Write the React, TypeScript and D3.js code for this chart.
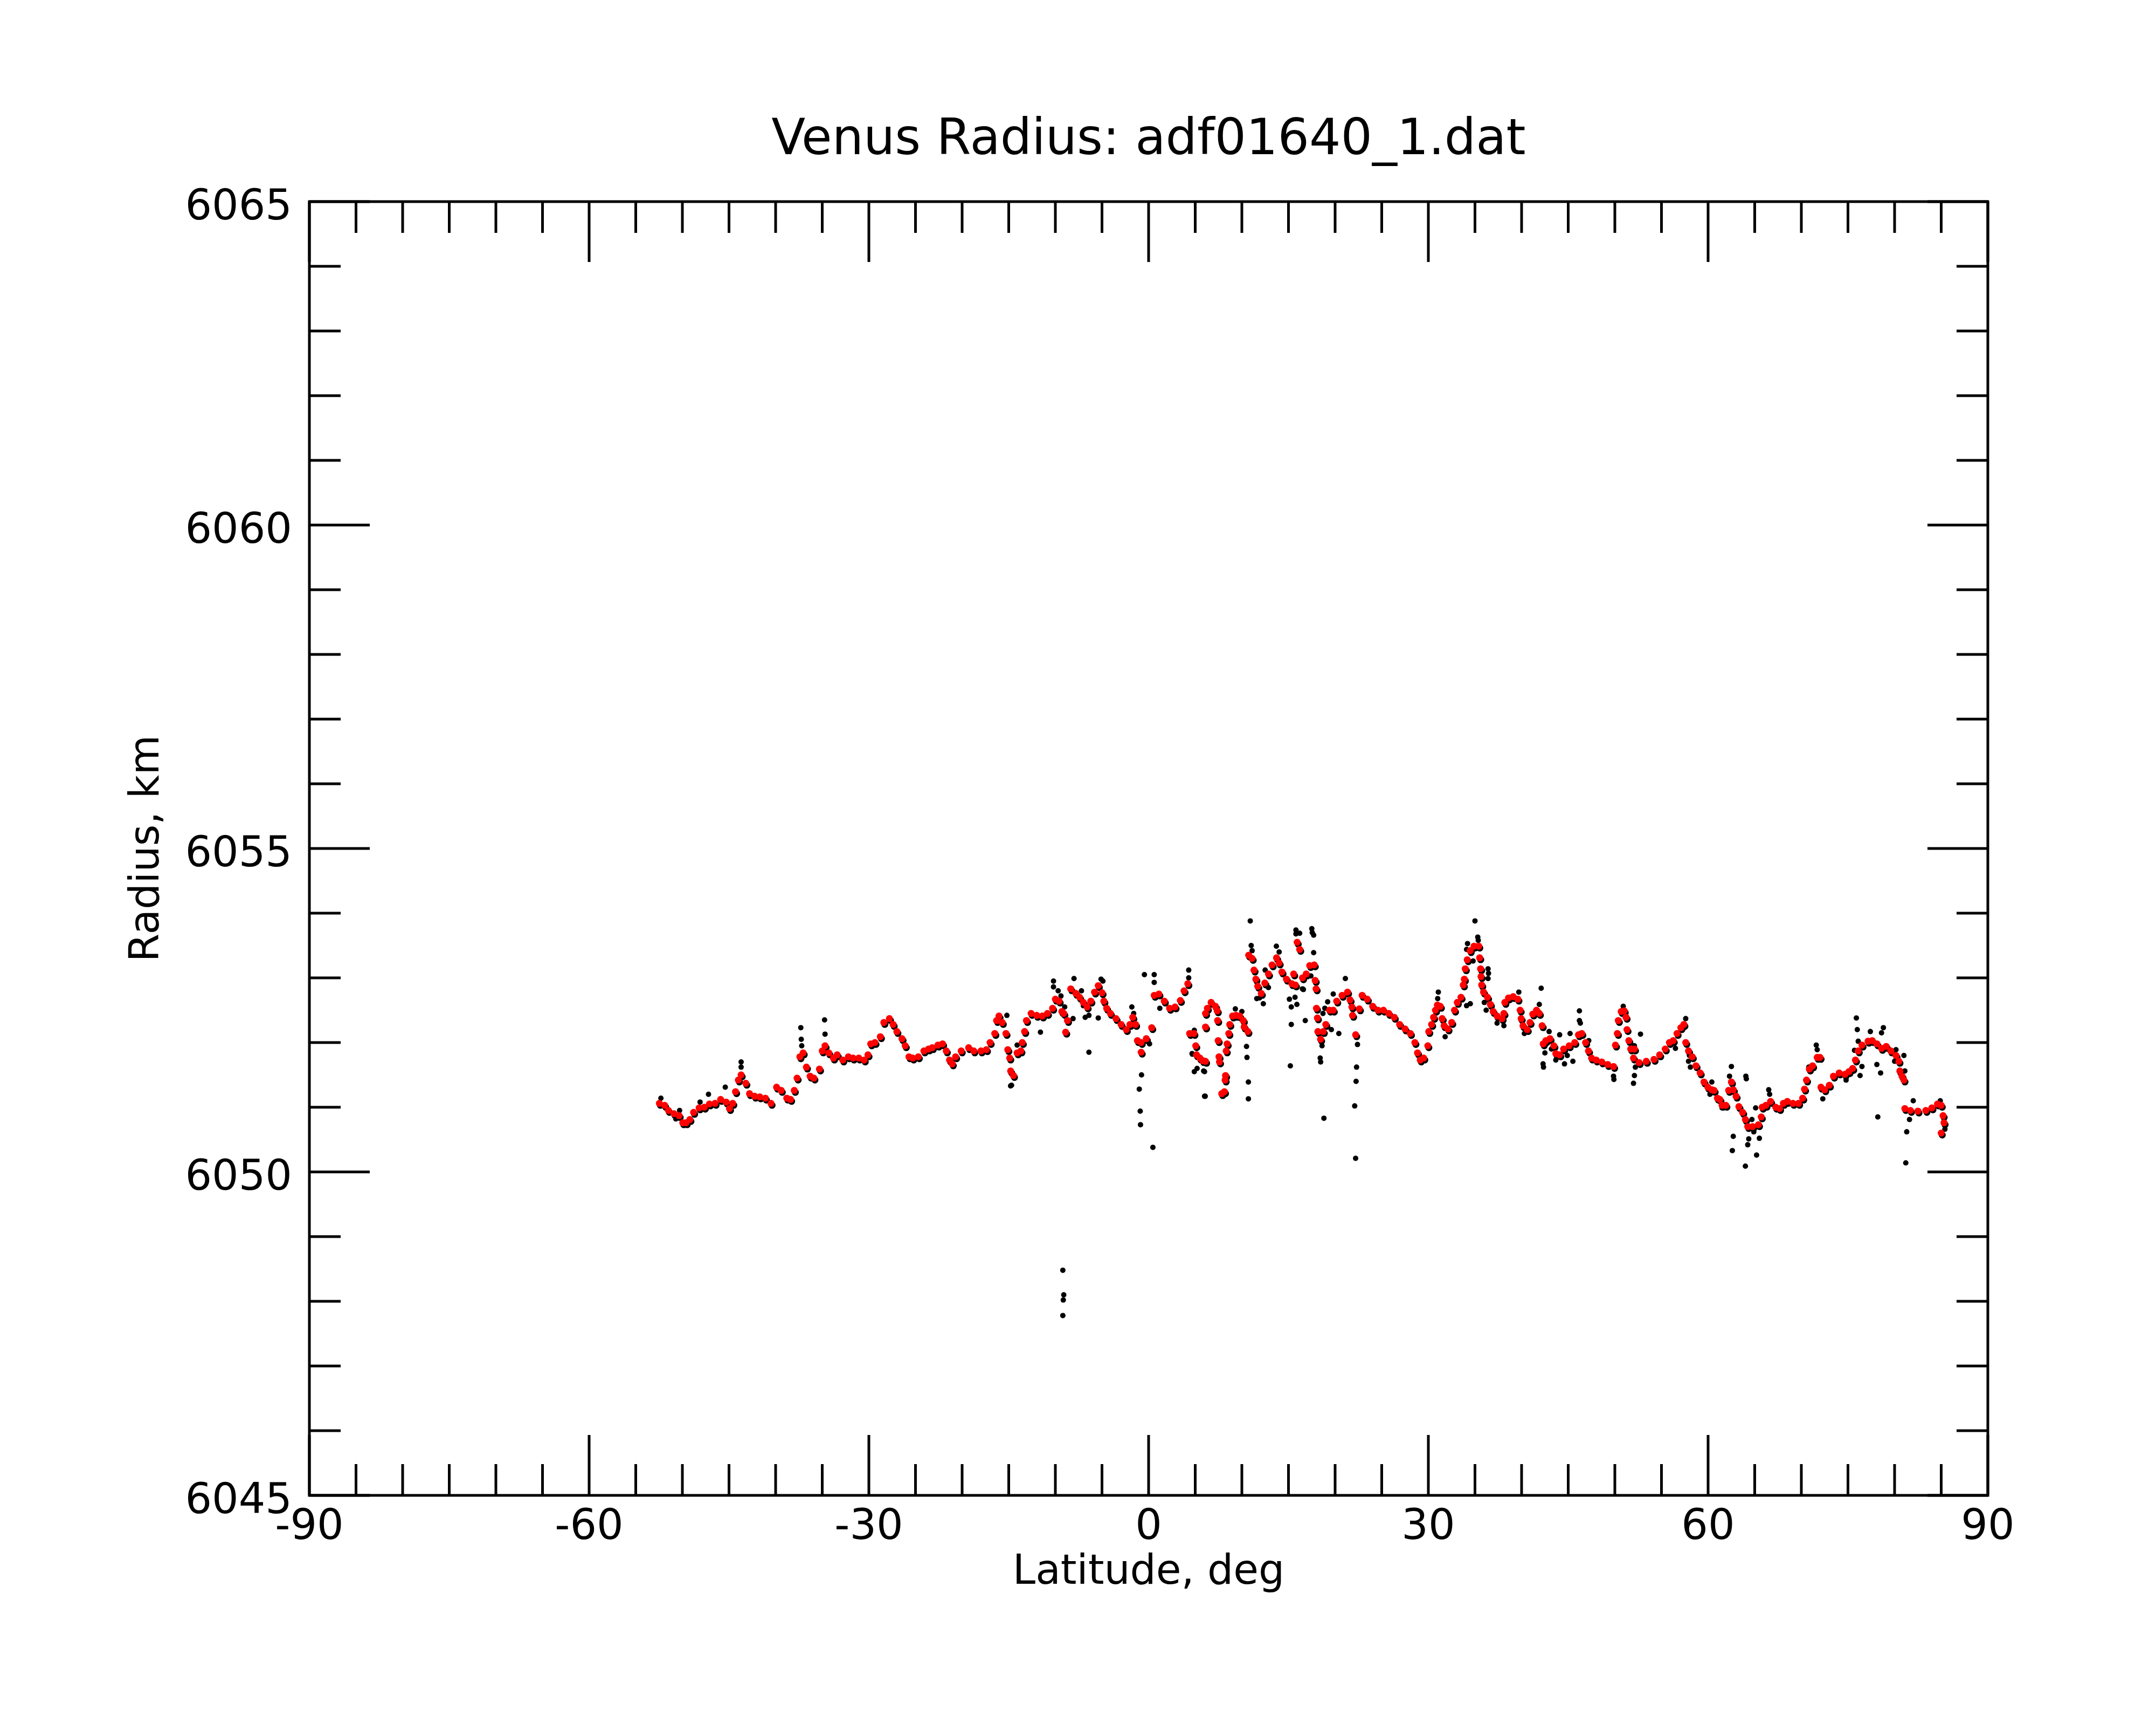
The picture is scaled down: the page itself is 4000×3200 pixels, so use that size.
import React from "react";
import * as d3 from "d3";

const chartTitle = "Venus Radius: adf01640_1.dat";
const xAxisTitle = "Latitude, deg";
const yAxisTitle = "Radius, km";

const latDomain: [number, number] = [-90, 90];
const radiusDomain: [number, number] = [6045, 6065];
const latMajorTicks = [-90, -60, -30, 0, 30, 60, 90];
const latMinorTicks = d3.range(-90, 91, 5);
const radiusMajorTicks = [6045, 6050, 6055, 6060, 6065];
const radiusMinorTicks = d3.range(6045, 6066, 1);

// filtered (red) profile: [latitude, radius]
const filteredPoints: [number, number][] = [
  [-52.47, 6051.06], [-51.9, 6051.03], [-51.5, 6050.95], [-50.9, 6050.9], [-50.35, 6050.87],
  [-49.96, 6050.76], [-49.6, 6050.76], [-49.2, 6050.81], [-48.8, 6050.92], [-48.2, 6050.99],
  [-47.65, 6051.0], [-47.1, 6051.05], [-46.5, 6051.06], [-45.9, 6051.12], [-45.3, 6051.08],
  [-44.95, 6050.98], [-44.6, 6051.06], [-44.3, 6051.24], [-44.0, 6051.42], [-43.7, 6051.5],
  [-43.2, 6051.37], [-42.8, 6051.21], [-42.25, 6051.17], [-41.7, 6051.16], [-41.1, 6051.14],
  [-40.5, 6051.06], [-39.9, 6051.31], [-39.4, 6051.26], [-38.8, 6051.14], [-38.4, 6051.12],
  [-38.0, 6051.26], [-37.7, 6051.45], [-37.4, 6051.78], [-37.05, 6051.84], [-36.7, 6051.62],
  [-36.3, 6051.48], [-35.9, 6051.45], [-35.3, 6051.59], [-35.0, 6051.87], [-34.7, 6051.95],
  [-34.3, 6051.84], [-33.8, 6051.76], [-33.4, 6051.81], [-32.8, 6051.73], [-32.2, 6051.78],
  [-31.7, 6051.76], [-31.08, 6051.76], [-30.5, 6051.73], [-30.1, 6051.81], [-29.8, 6051.98],
  [-29.35, 6052.0], [-28.77, 6052.09], [-28.4, 6052.31], [-27.8, 6052.37], [-27.4, 6052.28],
  [-27.0, 6052.17], [-26.45, 6052.06], [-26.1, 6051.95], [-25.7, 6051.78], [-25.3, 6051.76],
  [-24.7, 6051.78], [-24.1, 6051.87], [-23.6, 6051.9], [-23.2, 6051.92], [-22.6, 6051.96],
  [-22.1, 6051.98], [-21.7, 6051.87], [-21.35, 6051.73], [-21.06, 6051.67], [-20.7, 6051.78],
  [-20.1, 6051.87], [-19.3, 6051.92], [-18.75, 6051.87], [-17.98, 6051.87], [-17.4, 6051.89],
  [-17.0, 6052.0], [-16.5, 6052.14], [-16.3, 6052.34], [-16.05, 6052.41], [-15.7, 6052.31],
  [-15.3, 6052.14], [-15.1, 6051.89], [-14.9, 6051.76], [-14.8, 6051.56], [-14.5, 6051.49],
  [-14.1, 6051.84], [-13.7, 6051.87], [-13.55, 6052.0], [-13.3, 6052.17], [-13.1, 6052.34],
  [-12.6, 6052.45], [-12.0, 6052.42], [-11.4, 6052.41], [-10.85, 6052.45], [-10.3, 6052.53],
  [-10.0, 6052.67], [-9.6, 6052.64], [-9.3, 6052.48], [-9.1, 6052.45], [-8.9, 6052.16],
  [-8.7, 6052.34], [-8.35, 6052.83], [-7.8, 6052.76], [-7.4, 6052.7], [-7.0, 6052.62],
  [-6.6, 6052.55], [-6.2, 6052.64], [-5.8, 6052.78], [-5.4, 6052.88], [-5.0, 6052.77],
  [-4.8, 6052.64], [-4.5, 6052.53], [-4.1, 6052.45], [-3.5, 6052.37], [-2.95, 6052.28],
  [-2.4, 6052.2], [-2.0, 6052.28], [-1.7, 6052.39], [-1.4, 6052.28], [-1.2, 6052.03],
  [-0.8, 6052.0], [-0.8, 6051.85], [-0.25, 6052.06], [0.33, 6052.23], [0.6, 6052.73],
  [1.1, 6052.75], [1.68, 6052.64], [2.25, 6052.53], [2.83, 6052.55], [3.4, 6052.65],
  [3.8, 6052.8], [4.2, 6052.91], [4.4, 6052.14], [4.85, 6052.14], [5.05, 6051.95],
  [5.14, 6051.81], [5.5, 6051.76], [5.8, 6051.72], [6.1, 6051.71], [6.1, 6052.24],
  [6.1, 6052.45], [6.3, 6052.53], [6.7, 6052.62], [7.17, 6052.56], [7.36, 6052.49],
  [7.4, 6052.34], [7.46, 6052.03], [7.55, 6051.78], [7.6, 6051.7], [7.84, 6051.21],
  [8.13, 6051.24], [8.2, 6051.42], [8.25, 6051.49], [8.32, 6051.87], [8.42, 6051.98],
  [8.6, 6052.14], [8.7, 6052.28], [9.0, 6052.41], [9.38, 6052.42], [9.77, 6052.41],
  [10.15, 6052.34], [10.25, 6052.24], [10.64, 6052.17], [10.73, 6053.35], [11.1, 6053.3],
  [11.3, 6053.12], [11.5, 6052.98], [11.7, 6052.87], [12.08, 6052.76], [12.46, 6052.92],
  [12.85, 6053.06], [13.24, 6053.2], [13.72, 6053.31], [14.0, 6053.23], [14.3, 6053.09],
  [14.78, 6052.98], [15.36, 6052.91], [15.55, 6053.06], [15.74, 6052.89], [15.93, 6053.55],
  [16.2, 6053.44], [16.5, 6053.0], [16.9, 6053.06], [17.28, 6053.19], [17.76, 6053.2],
  [17.86, 6052.96], [17.96, 6052.83], [18.0, 6052.53], [18.1, 6052.38], [18.15, 6052.17],
  [18.44, 6052.05], [18.73, 6052.17], [19.0, 6052.28], [19.4, 6052.5], [19.8, 6052.5],
  [20.17, 6052.64], [20.75, 6052.73], [21.33, 6052.78], [21.6, 6052.66], [21.8, 6052.55],
  [21.87, 6052.42], [22.2, 6052.12], [22.6, 6052.52], [22.9, 6052.73], [23.45, 6052.67],
  [24.03, 6052.56], [24.6, 6052.5], [25.18, 6052.5], [25.76, 6052.45], [26.34, 6052.39],
  [26.92, 6052.28], [27.5, 6052.21], [28.07, 6052.14], [28.55, 6052.0], [28.84, 6051.84],
  [29.13, 6051.73], [29.5, 6051.76], [29.94, 6051.95], [30.04, 6052.17], [30.35, 6052.28],
  [30.56, 6052.39], [30.76, 6052.5], [30.97, 6052.58], [31.28, 6052.56], [31.48, 6052.37],
  [31.69, 6052.26], [32.1, 6052.21], [32.5, 6052.31], [32.8, 6052.5], [33.1, 6052.62],
  [33.5, 6052.7], [33.75, 6052.89], [33.86, 6052.98], [33.96, 6053.14], [34.17, 6053.28],
  [34.48, 6053.42], [34.9, 6053.49], [35.4, 6053.49], [35.5, 6053.31], [35.6, 6053.14],
  [35.65, 6053.02], [35.72, 6052.89], [35.92, 6052.78], [36.34, 6052.7], [36.65, 6052.59],
  [36.95, 6052.48], [37.37, 6052.41], [37.9, 6052.37], [38.1, 6052.45], [38.2, 6052.62],
  [38.6, 6052.69], [39.1, 6052.71], [39.6, 6052.67], [39.84, 6052.5], [39.95, 6052.37],
  [40.15, 6052.26], [40.6, 6052.2], [40.9, 6052.31], [41.2, 6052.44], [41.6, 6052.5],
  [41.9, 6052.45], [42.2, 6052.26], [42.32, 6051.98], [42.6, 6052.03], [43.04, 6052.06],
  [43.46, 6051.95], [43.67, 6051.83], [44.08, 6051.81], [44.5, 6051.9], [45.1, 6051.95],
  [45.7, 6052.0], [46.1, 6052.12], [46.45, 6052.14], [46.86, 6052.0], [47.17, 6051.87],
  [47.5, 6051.76], [48.0, 6051.73], [48.6, 6051.7], [49.24, 6051.66], [49.86, 6051.63],
  [50.06, 6051.96], [50.27, 6052.14], [50.37, 6052.34], [50.68, 6052.48], [51.0, 6052.49],
  [51.2, 6052.39], [51.3, 6052.2], [51.5, 6052.03], [51.7, 6051.9], [52.0, 6051.76],
  [52.1, 6051.9], [52.6, 6051.69], [53.37, 6051.71], [54.2, 6051.74], [54.8, 6051.81],
  [55.4, 6051.9], [55.85, 6052.0], [56.26, 6052.03], [56.67, 6052.14], [57.08, 6052.23],
  [57.4, 6052.28], [57.6, 6052.0], [57.9, 6051.87], [58.3, 6051.78], [58.7, 6051.64],
  [59.15, 6051.53], [59.56, 6051.39], [59.97, 6051.31], [60.4, 6051.27], [60.64, 6051.26],
  [61.0, 6051.14], [61.26, 6051.12], [61.5, 6051.03], [61.9, 6051.03], [62.2, 6051.26],
  [62.5, 6051.39], [62.7, 6051.27], [63.0, 6051.17], [63.3, 6051.01], [63.7, 6050.92],
  [64.0, 6050.81], [64.25, 6050.7], [64.77, 6050.7], [65.4, 6050.73], [65.7, 6050.85],
  [65.8, 6051.0], [66.2, 6051.03], [66.7, 6051.09], [67.25, 6051.0], [67.66, 6050.98],
  [68.07, 6051.06], [68.5, 6051.09], [69.1, 6051.06], [69.7, 6051.06], [70.14, 6051.14],
  [70.34, 6051.28], [70.55, 6051.42], [70.86, 6051.59], [71.2, 6051.64], [71.7, 6051.77],
  [72.0, 6051.77], [72.1, 6051.31], [72.5, 6051.27], [73.0, 6051.34], [73.44, 6051.48],
  [74.06, 6051.53], [74.68, 6051.51], [75.1, 6051.55], [75.5, 6051.6], [75.8, 6051.73],
  [76.1, 6051.87], [76.5, 6051.96], [77.15, 6052.02], [77.6, 6052.03], [78.1, 6051.98],
  [78.6, 6051.91], [79.1, 6051.94], [79.6, 6051.87], [80.15, 6051.8], [80.46, 6051.71],
  [80.56, 6051.56], [80.8, 6051.48], [81.0, 6051.42], [81.1, 6050.98], [81.7, 6050.95],
  [82.5, 6050.94], [83.35, 6050.95], [84.0, 6050.99], [84.6, 6051.05], [85.0, 6051.03],
  [85.2, 6050.87], [85.3, 6050.76], [85.0, 6050.6],
];

// raw (black) samples that stand away from the filtered profile
const rawOutliers: [number, number][] = [
  [-52.3, 6051.14], [-50.7, 6050.82], [-50.3, 6050.95], [-48.1, 6051.08], [-47.2, 6051.2],
  [-45.4, 6051.31], [-43.7, 6051.7], [-43.7, 6051.62], [-37.3, 6052.23], [-37.25, 6052.05],
  [-37.2, 6051.95], [-34.75, 6052.35], [-34.7, 6052.13],
  [-15.2, 6052.42], [-14.8, 6051.33], [-14.7, 6051.34], [-14.1, 6051.96], [-11.6, 6052.16],
  [-10.2, 6052.95], [-10.2, 6052.86], [-9.7, 6052.8], [-9.4, 6052.72], [-9.0, 6052.55],
  [-9.2, 6048.48], [-9.1, 6048.1], [-9.15, 6048.02], [-9.2, 6047.78],
  [-8.1, 6052.37], [-8.0, 6052.99], [-7.2, 6052.8], [-7.0, 6052.57], [-6.8, 6052.39],
  [-6.4, 6052.42], [-6.4, 6051.85], [-5.4, 6052.38], [-5.1, 6052.98], [-4.9, 6052.95],
  [-1.8, 6052.55], [-1.6, 6052.45], [-1.0, 6051.28], [-0.9, 6050.94], [-0.87, 6050.73],
  [-0.76, 6051.5], [-0.45, 6053.05], [0.1, 6051.98], [0.46, 6050.38], [0.6, 6053.05],
  [0.6, 6052.93], [1.2, 6052.53], [4.3, 6053.12], [4.3, 6053.0], [4.66, 6051.83],
  [4.7, 6051.82], [4.9, 6052.19], [4.9, 6051.55], [5.2, 6051.6], [5.9, 6051.56],
  [6.0, 6051.55], [6.0, 6051.17], [6.07, 6051.17], [9.3, 6052.52], [10.0, 6052.48],
  [10.5, 6051.94], [10.55, 6051.77], [10.7, 6051.39], [10.7, 6051.13], [10.9, 6053.88],
  [11.0, 6053.5], [11.1, 6053.42], [11.6, 6052.68], [11.9, 6052.69], [12.3, 6052.6],
  [12.5, 6053.12], [12.85, 6052.85], [13.7, 6053.49], [14.0, 6053.4], [15.1, 6052.67],
  [15.2, 6051.64], [15.3, 6052.55], [15.3, 6052.28], [15.7, 6052.7], [15.8, 6053.74],
  [15.8, 6053.68], [15.9, 6052.59], [16.2, 6053.69], [16.5, 6052.83], [16.6, 6052.82],
  [16.8, 6052.34], [17.4, 6053.03], [17.5, 6053.76], [17.55, 6053.7], [17.7, 6053.66],
  [17.7, 6053.39], [18.4, 6051.76], [18.45, 6051.7], [18.6, 6051.95], [18.7, 6052.45],
  [18.8, 6050.83], [18.9, 6052.53], [19.2, 6052.63], [19.6, 6052.2], [19.8, 6052.75],
  [20.4, 6052.14], [21.1, 6052.99], [22.1, 6051.02], [22.2, 6050.21], [22.25, 6051.4],
  [22.3, 6051.62], [22.4, 6051.97],
  [31.0, 6052.68], [31.07, 6052.78], [31.8, 6052.09], [34.1, 6053.44], [34.1, 6052.57],
  [34.2, 6053.53], [34.5, 6052.6], [34.8, 6053.26], [35.0, 6053.88], [35.3, 6053.63],
  [35.35, 6053.58], [36.0, 6052.62], [36.2, 6052.5], [36.4, 6053.14], [36.4, 6052.99],
  [36.45, 6053.07], [37.37, 6052.3], [38.1, 6052.26], [39.7, 6052.78], [40.3, 6052.14],
  [41.8, 6052.45], [41.9, 6052.59], [42.1, 6052.84], [42.3, 6051.67], [42.35, 6051.62],
  [42.5, 6051.84], [42.95, 6052.17], [43.2, 6051.9], [43.67, 6051.73], [44.08, 6052.12],
  [44.6, 6051.67], [44.9, 6051.8], [45.2, 6052.14], [45.5, 6051.71], [46.2, 6052.49],
  [46.2, 6052.34], [46.3, 6052.3], [47.2, 6052.03], [49.86, 6051.48], [49.9, 6051.43],
  [50.9, 6052.56], [52.0, 6051.37], [52.1, 6051.95], [52.1, 6051.49], [52.2, 6051.62],
  [52.75, 6052.13], [56.5, 6051.91], [57.6, 6052.37], [57.9, 6051.71], [58.0, 6051.8],
  [58.1, 6051.62], [60.2, 6051.2], [60.4, 6051.39], [61.5, 6050.99],
  [62.3, 6051.48], [62.5, 6051.63], [62.6, 6050.33], [62.7, 6050.55], [64.0, 6050.09],
  [64.05, 6051.48], [64.1, 6051.44], [64.25, 6050.42], [64.36, 6050.51], [64.7, 6050.81],
  [64.9, 6050.62], [65.1, 6050.99], [65.2, 6050.26], [65.5, 6050.52], [66.5, 6051.27],
  [66.6, 6051.2], [70.8, 6051.62], [71.6, 6051.96], [71.7, 6051.89], [72.3, 6051.13],
  [74.8, 6051.42], [75.7, 6051.88], [75.9, 6052.38], [76.0, 6052.2], [76.1, 6052.02],
  [76.3, 6051.49], [76.5, 6051.63], [77.4, 6052.17], [78.1, 6051.66], [78.2, 6050.85],
  [78.5, 6051.53], [78.6, 6052.15], [78.8, 6052.23], [80.0, 6051.71], [80.15, 6051.89],
  [81.0, 6051.8], [81.1, 6051.56], [81.2, 6050.14], [81.3, 6050.62], [81.6, 6050.81],
  [82.0, 6051.1], [84.9, 6051.1], [85.4, 6050.66],
];

const W = 4000;
const H = 3200;
const plot = { left: 574, right: 3688, top: 374, bottom: 2774 };
const FONT = "'DejaVu Sans', sans-serif";

export default function App() {
  const x = d3.scaleLinear().domain(latDomain).range([plot.left, plot.right]);
  const y = d3.scaleLinear().domain(radiusDomain).range([plot.bottom, plot.top]);
  const minorLen = 58;
  const majorLen = 112;
  const sw = 5;
  const traceR = 6.5;
  const dotR = 5;
  const cx = (plot.left + plot.right) / 2;
  const cy = (plot.top + plot.bottom) / 2;

  return (
    <svg
      width={W}
      height={H}
      viewBox={`0 0 ${W} ${H}`}
      style={{ position: "absolute", left: 0, top: 0, background: "#fff" }}
      fontFamily={FONT}
    >
      <rect x={0} y={0} width={W} height={H} fill="#fff" />
      <text x={cx} y={286} fontSize={92} textAnchor="middle" fill="#000">
        {chartTitle}
      </text>

      {/* data: raw black under filtered red */}
      <g>
        {filteredPoints.map(([lat, r], i) => (
          <circle key={"s" + i} cx={x(lat) + 2} cy={y(r) + 3.5} r={traceR} fill="#000" />
        ))}
        {rawOutliers.map(([lat, r], i) => (
          <circle key={"o" + i} cx={x(lat)} cy={y(r)} r={dotR} fill="#000" />
        ))}
        {filteredPoints.map(([lat, r], i) => (
          <circle key={"f" + i} cx={x(lat)} cy={y(r)} r={traceR} fill="#ff0000" />
        ))}
      </g>

      {/* ticks on all four sides */}
      <g stroke="#000" strokeWidth={sw}>
        {latMinorTicks.map((t) => {
          const len = latMajorTicks.includes(t) ? majorLen : minorLen;
          return (
            <g key={"xt" + t}>
              <line x1={x(t)} x2={x(t)} y1={plot.bottom} y2={plot.bottom - len} />
              <line x1={x(t)} x2={x(t)} y1={plot.top} y2={plot.top + len} />
            </g>
          );
        })}
        {radiusMinorTicks.map((t) => {
          const len = radiusMajorTicks.includes(t) ? majorLen : minorLen;
          return (
            <g key={"yt" + t}>
              <line x1={plot.left} x2={plot.left + len} y1={y(t)} y2={y(t)} />
              <line x1={plot.right} x2={plot.right - len} y1={y(t)} y2={y(t)} />
            </g>
          );
        })}
      </g>
      <rect
        x={plot.left}
        y={plot.top}
        width={plot.right - plot.left}
        height={plot.bottom - plot.top}
        fill="none"
        stroke="#000"
        strokeWidth={sw}
      />

      {/* tick labels */}
      {latMajorTicks.map((t) => (
        <text key={"xl" + t} x={x(t)} y={2855} fontSize={78} textAnchor="middle" fill="#000">
          {t}
        </text>
      ))}
      {radiusMajorTicks.map((t) => (
        <text key={"yl" + t} x={542} y={y(t) + 33} fontSize={78} textAnchor="end" fill="#000">
          {t}
        </text>
      ))}

      <text x={cx} y={2938} fontSize={76} textAnchor="middle" fill="#000">
        {xAxisTitle}
      </text>
      <text
        x={0}
        y={0}
        fontSize={76}
        textAnchor="middle"
        fill="#000"
        transform={`translate(294, ${cy}) rotate(-90)`}
      >
        {yAxisTitle}
      </text>
    </svg>
  );
}
